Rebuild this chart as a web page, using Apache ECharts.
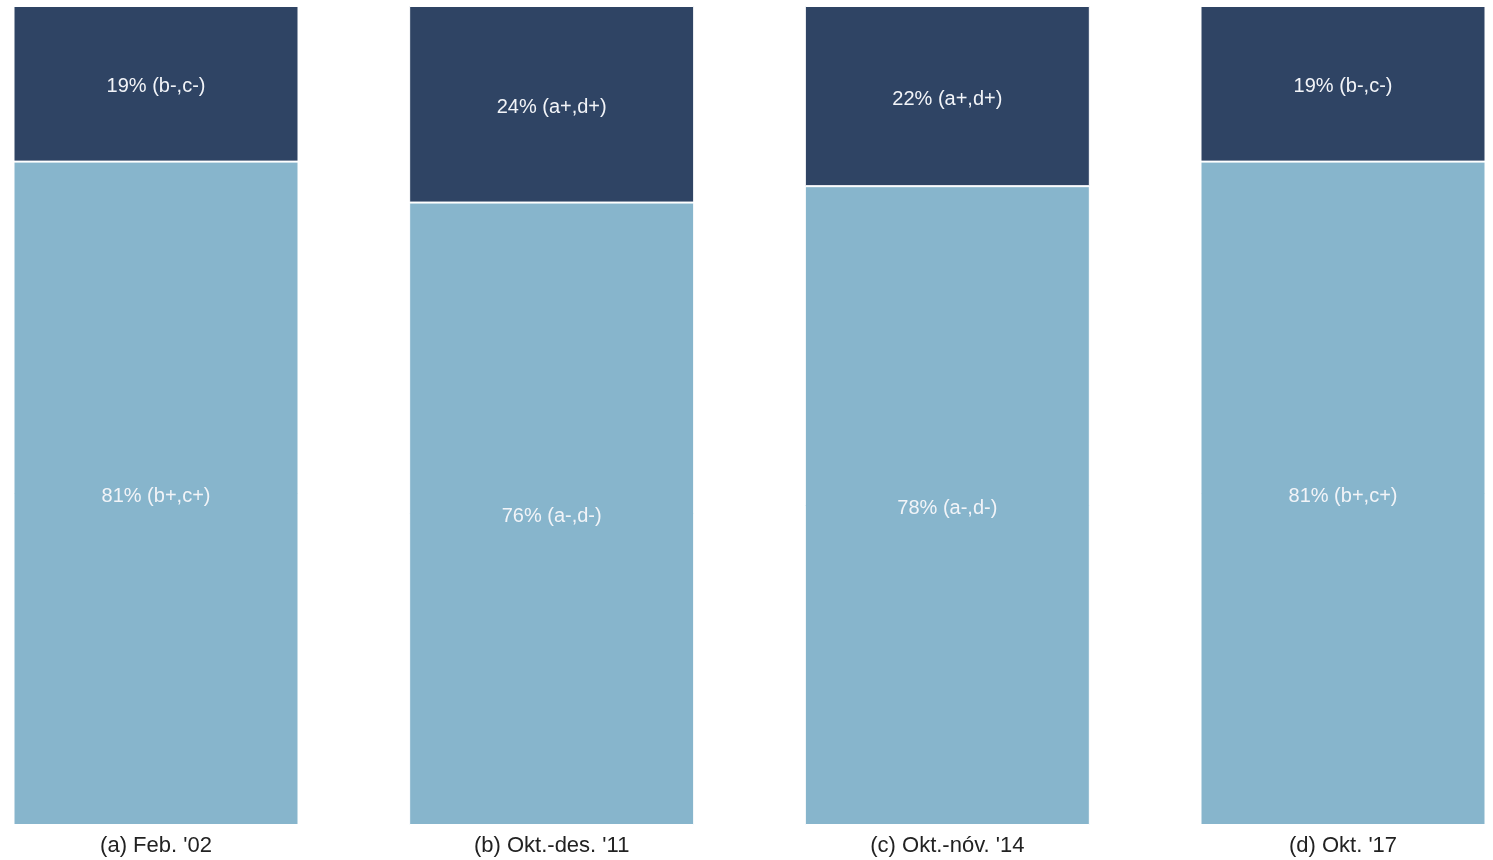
<!DOCTYPE html>
<html>
<head>
<meta charset="utf-8">
<script src="https://cdn.jsdelivr.net/npm/echarts@6/dist/echarts.min.js"></script>
<style>html,body{margin:0;padding:0;background:#fff}#c{width:1493px;height:860px}</style>
</head>
<body>
<div id="c"></div>
<script>
const categories = ["(a) Feb. '02", "(b) Okt.-des. '11", "(c) Okt.-nóv. '14", "(d) Okt. '17"];
const bottomValues = [81, 76, 78, 81];
const topValues = [19, 24, 22, 19];
const bottomTags = ["b+,c+", "a-,d-", "a-,d-", "b+,c+"];
const topTags = ["b-,c-", "a+,d+", "a+,d+", "b-,c-"];

const chart = echarts.init(document.getElementById('c'), null, {renderer: 'canvas'});
const font = "'Liberation Sans', Arial, sans-serif";
function mk(name, vals, tags, color) {
  return {
    name: name, type: 'bar', stack: 's', barWidth: 285, clip: false,
    data: vals.map((v, i) => ({value: v, tag: tags[i]})),
    itemStyle: {color: color, borderColor: '#ffffff', borderWidth: 1},
    label: {
      show: true, position: 'inside', color: '#f2f4f8', fontSize: 20, fontFamily: font,
      offset: [0, 3],
      formatter: p => p.value + '% (' + p.data.tag + ')'
    },
    emphasis: {disabled: true}, animation: false
  };
}
chart.setOption({
  animation: false,
  grid: {left: 156, right: 150, top: 6, bottom: 35},
  xAxis: {
    type: 'category', data: categories, boundaryGap: false,
    axisLine: {show: false}, axisTick: {show: false}, splitLine: {show: false},
    axisLabel: {fontSize: 22, color: '#222222', fontFamily: font, margin: 10, interval: 0}
  },
  yAxis: {type: 'value', min: 0, max: 100, show: false, splitLine: {show: false}},
  series: [
    mk('bottom', bottomValues, bottomTags, '#87b5cc'),
    mk('top', topValues, topTags, '#2f4464')
  ]
});
</script>
</body>
</html>
